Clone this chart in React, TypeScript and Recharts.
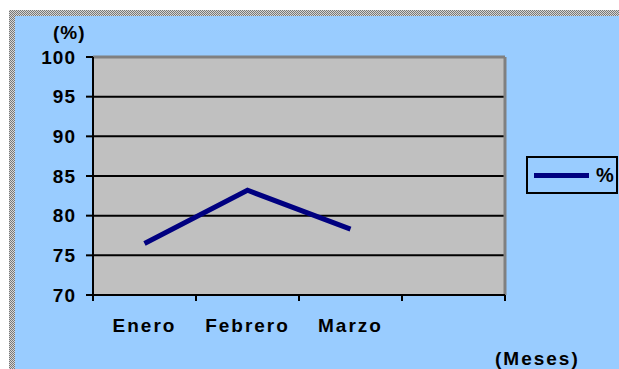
import React from 'react';
import { LineChart, Line, XAxis, YAxis, CartesianGrid, ReferenceLine } from 'recharts';

const meses = ['Enero', 'Febrero', 'Marzo'];
const porcentajes = [76.5, 83.2, 78.3];
const yTicks = [70, 75, 80, 85, 90, 95, 100];
const slotTicks = [0, 1, 2, 3, 4];
const labelTicks = [0.5, 1.5, 2.5];
const serieNombre = '%';

const FONT = '"Liberation Sans", Arial, sans-serif';

// Excel-style: categories sit between tick marks, 4 slots with the last left empty
const data = meses.map((m, i) => ({ x: i + 0.5, mes: m, valor: porcentajes[i] }));

export default function App() {
  return (
    <div>
      <style>{`body{margin:0;overflow:hidden}`}</style>
      <div
        style={{
          position: 'absolute',
          left: 9,
          top: 10,
          padding: 6,
          background: 'repeating-conic-gradient(#777 0% 25%, #d6d6d6 0% 50%) 0 0 / 2px 2px',
        }}
      >
        <div style={{ position: 'relative', width: 610, height: 360, background: '#99CCFF' }}>
          <LineChart
            width={610}
            height={360}
            data={data}
            margin={{ top: 41, right: 120, left: 0, bottom: 0 }}
          >
            <CartesianGrid
              vertical={false}
              stroke="#000"
              strokeWidth={2}
              fill="#C0C0C0"
              fillOpacity={1}
            />
            <XAxis
              xAxisId="a"
              dataKey="x"
              type="number"
              domain={[0, 4]}
              allowDataOverflow
              ticks={slotTicks}
              interval={0}
              tickFormatter={() => ''}
              tickSize={6}
              height={24}
              axisLine={{ stroke: '#000', strokeWidth: 2 }}
              tickLine={{ stroke: '#000', strokeWidth: 2 }}
            />
            <XAxis
              xAxisId="b"
              dataKey="x"
              type="number"
              domain={[0, 4]}
              allowDataOverflow
              ticks={labelTicks}
              interval={0}
              tickFormatter={(v: number) => meses[Math.floor(v)]}
              tickSize={0}
              tickMargin={0}
              height={57}
              axisLine={false}
              tickLine={false}
              tick={{ fontSize: 19, fontWeight: 'bold', fill: '#000', fontFamily: FONT, letterSpacing: 2 }}
            />
            <YAxis
              domain={[70, 100]}
              ticks={yTicks}
              interval={0}
              width={78}
              tickSize={7}
              tickMargin={10}
              axisLine={{ stroke: '#000', strokeWidth: 2 }}
              tickLine={{ stroke: '#000', strokeWidth: 2 }}
              tick={{ fontSize: 19, fontWeight: 'bold', fill: '#000', fontFamily: FONT, letterSpacing: 1 }}
            />
            <ReferenceLine y={100} xAxisId="a" stroke="#808080" strokeWidth={3} />
            <ReferenceLine x={4} xAxisId="a" stroke="#808080" strokeWidth={3} />
            <Line
              xAxisId="a"
              type="linear"
              dataKey="valor"
              name={serieNombre}
              stroke="#000080"
              strokeWidth={5}
              dot={false}
              isAnimationActive={false}
            />
          </LineChart>
          <div
            style={{
              position: 'absolute',
              left: 511,
              top: 140,
              width: 88,
              height: 34,
              border: '2px solid #000',
              display: 'flex',
              alignItems: 'center',
              fontFamily: FONT,
              fontWeight: 'bold',
              fontSize: 20,
              color: '#000',
            }}
          >
            <div style={{ width: 55, height: 5, background: '#000080', marginLeft: 6, marginRight: 7 }} />
            <span>{serieNombre}</span>
          </div>
          <div
            style={{
              position: 'absolute',
              left: 38,
              top: 6,
              fontFamily: FONT,
              fontWeight: 'bold',
              fontSize: 19,
              lineHeight: '22px',
              letterSpacing: 1,
            }}
          >
            (%)
          </div>
          <div
            style={{
              position: 'absolute',
              left: 480,
              top: 332,
              fontFamily: FONT,
              fontWeight: 'bold',
              fontSize: 19,
              lineHeight: '22px',
              letterSpacing: 2,
            }}
          >
            (Meses)
          </div>
        </div>
      </div>
    </div>
  );
}
